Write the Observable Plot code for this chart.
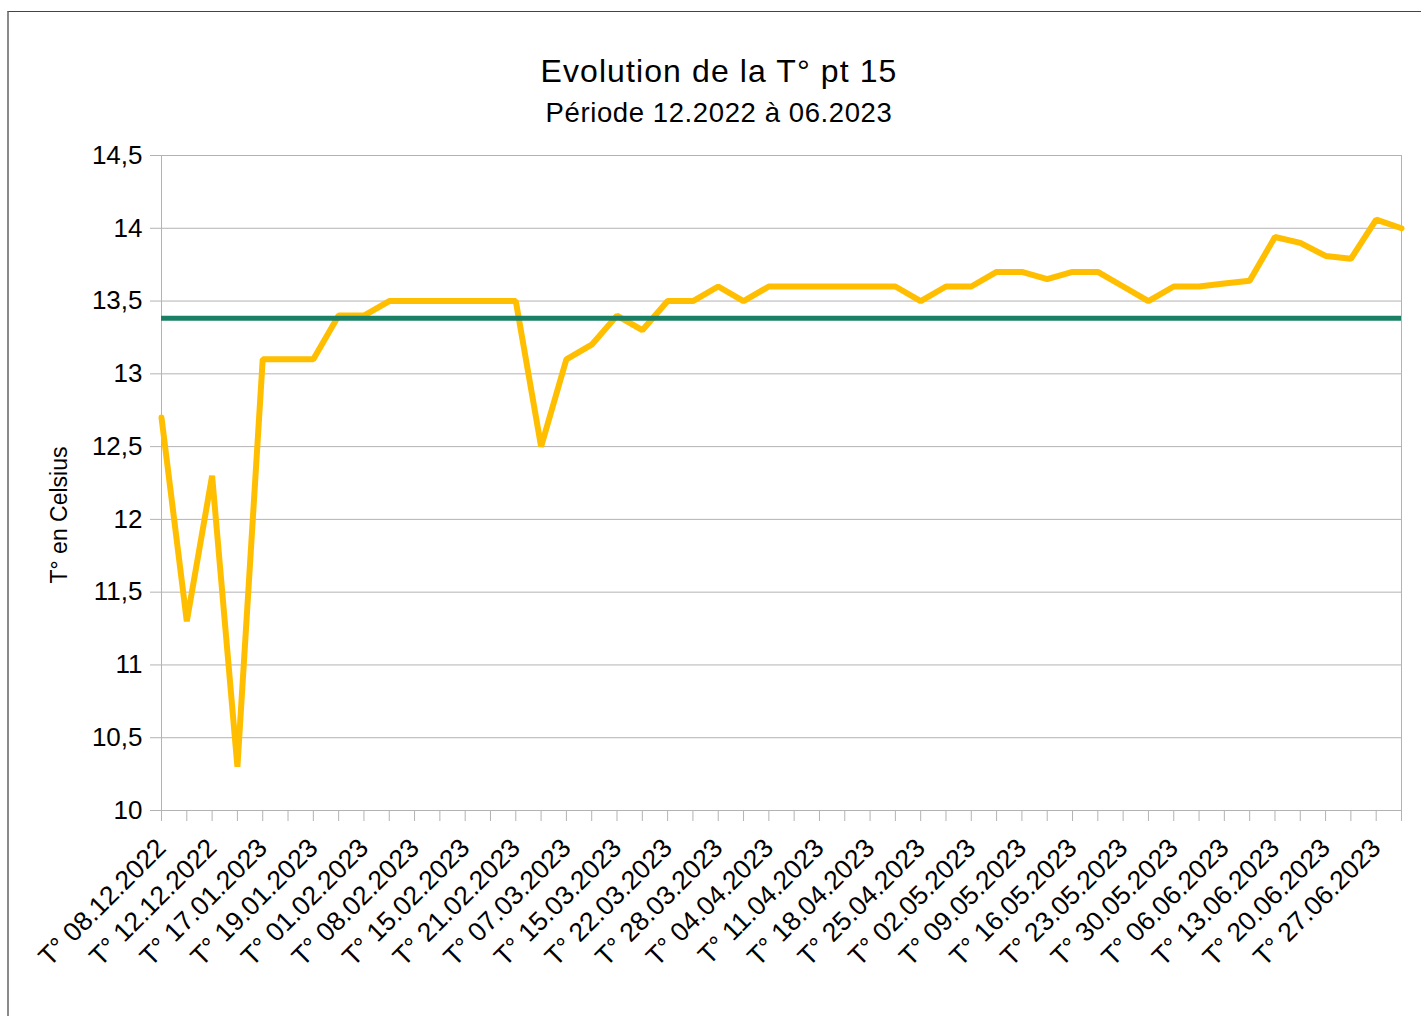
<!DOCTYPE html>
<html>
<head>
<meta charset="utf-8">
<script src="https://cdn.jsdelivr.net/npm/d3@7"></script>
<script src="https://cdn.jsdelivr.net/npm/@observablehq/plot@0.6"></script>
<style>
  html, body { margin: 0; padding: 0; background: #fff; }
  #page { position: relative; width: 1421px; height: 1016px; overflow: hidden; font-family: "Liberation Sans", Arial, sans-serif; color: #000; background: #fff; }
  #border { position: absolute; left: 7px; top: 11px; width: 1500px; height: 1100px; border-top: 1px solid #444; border-left: 2px solid #8a8a8a; z-index: 2; pointer-events: none; }
  .ttl { position: absolute; left: 0; width: 1438px; text-align: center; line-height: 1; white-space: nowrap; }
  #title { top: 55px; font-size: 32px; letter-spacing: 1.1px; }
  #subtitle { top: 99px; font-size: 27.5px; letter-spacing: 0.6px; }
  #chart { position: absolute; left: 0; top: 140px; z-index: 1; }
</style>
</head>
<body>
<div id="page">
  <div class="ttl" id="title">Evolution de la T° pt 15</div>
  <div class="ttl" id="subtitle">Période 12.2022 à 06.2023</div>
  <div id="chart"></div>
  <div id="border"></div>
</div>
<script>
// Temperature readings (°C), one per measurement date (50 readings)
const temperatures = [
  12.7, 11.3, 12.3, 10.3, 13.1, 13.1, 13.1, 13.4, 13.4, 13.5,
  13.5, 13.5, 13.5, 13.5, 13.5, 12.5, 13.1, 13.2, 13.4, 13.3,
  13.5, 13.5, 13.6, 13.5, 13.6, 13.6, 13.6, 13.6, 13.6, 13.6,
  13.5, 13.6, 13.6, 13.7, 13.7, 13.65, 13.7, 13.7, 13.6, 13.5,
  13.6, 13.6, 13.62, 13.64, 13.94, 13.9, 13.81, 13.79, 14.06, 14.0
];

// Visible category labels (every other reading is labelled)
const dateLabels = [
  "T° 08.12.2022", "T° 12.12.2022", "T° 17.01.2023", "T° 19.01.2023", "T° 01.02.2023",
  "T° 08.02.2023", "T° 15.02.2023", "T° 21.02.2023", "T° 07.03.2023", "T° 15.03.2023",
  "T° 22.03.2023", "T° 28.03.2023", "T° 04.04.2023", "T° 11.04.2023", "T° 18.04.2023",
  "T° 25.04.2023", "T° 02.05.2023", "T° 09.05.2023", "T° 16.05.2023", "T° 23.05.2023",
  "T° 30.05.2023", "T° 06.06.2023", "T° 13.06.2023", "T° 20.06.2023", "T° 27.06.2023"
];

// Y-axis ticks
const yTicks = [10, 10.5, 11, 11.5, 12, 12.5, 13, 13.5, 14, 14.5];

const yLabel = "T° en Celsius";

const n = temperatures.length;
const readings = temperatures.map((t, i) => ({ i, t }));
const xTicks = d3.range(n);
const labelled = dateLabels.map((label, k) => ({ i: k * 2, label }));
const average = d3.mean(temperatures);

const gridColor = "#b3b3b3";

const chart = Plot.plot({
  width: 1421,
  height: 840,
  marginLeft: 161,
  marginRight: 20,
  marginTop: 15,
  marginBottom: 170,
  style: { fontFamily: "'Liberation Sans', Arial, sans-serif", background: "transparent", color: "#000", overflow: "visible" },
  x: { domain: [0, n - 1], axis: null },
  y: { domain: [10, 14.5], axis: null },
  marks: [
    Plot.gridY(yTicks, { stroke: gridColor, strokeOpacity: 1, strokeWidth: 1 }),
    Plot.ruleX([0, n - 1], { stroke: gridColor, strokeWidth: 1 }),
    Plot.ruleY([10], { stroke: gridColor, strokeWidth: 1 }),
    Plot.axisY({
      ticks: yTicks,
      tickSize: 11,
      tickPadding: 8,
      tickFormat: d => String(d).replace(".", ","),
      fontSize: 26,
      stroke: gridColor,
      label: null
    }),
    Plot.axisX({
      ticks: xTicks,
      tickSize: 11,
      tickFormat: () => "",
      stroke: gridColor,
      label: null
    }),
    Plot.text(labelled, {
      x: "i",
      text: "label",
      frameAnchor: "bottom",
      dy: 33,
      rotate: -45,
      textAnchor: "end",
      lineAnchor: "middle",
      fontSize: 26.5,
      fill: "#000"
    }),
    Plot.text([yLabel], {
      text: d => d,
      frameAnchor: "left",
      dx: -95,
      dy: 32,
      rotate: -90,
      textAnchor: "middle",
      lineAnchor: "bottom",
      fontSize: 23,
      fill: "#000"
    }),
    Plot.lineY(readings, {
      x: "i",
      y: "t",
      stroke: "#FFBF00",
      strokeWidth: 6,
      strokeLinejoin: "miter"
    }),
    Plot.ruleY([average], { stroke: "#1a8065", strokeWidth: 5 })
  ]
});

document.getElementById("chart").appendChild(chart);
</script>
</body>
</html>
